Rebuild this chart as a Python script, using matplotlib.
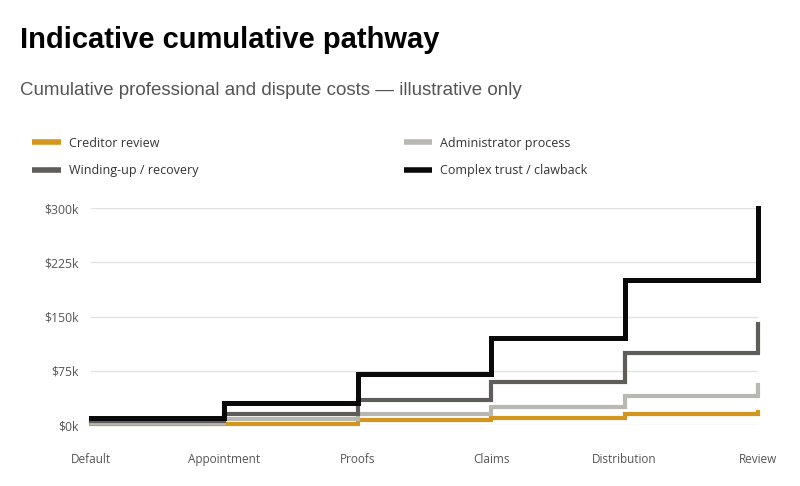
import matplotlib.pyplot as plt
from matplotlib.lines import Line2D
from matplotlib.ticker import FuncFormatter

# stages along the pathway
stages = ["Default", "Appointment", "Proofs", "Claims", "Distribution", "Review"]

# cumulative costs, $k
creditor_review = [1, 2, 7, 10, 15, 18]
administrator_process = [3, 8, 15, 25, 40, 55]
winding_up = [6, 15, 35, 60, 100, 140]
complex_trust = [10, 30, 70, 120, 200, 300]

y_ticks = [0, 75, 150, 225, 300]

series = [
    ("Creditor review", creditor_review, "#D4961E", 3.0),
    ("Administrator process", administrator_process, "#B9B7B1", 3.0),
    ("Winding-up / recovery", winding_up, "#5E5D59", 3.0),
    ("Complex trust / clawback", complex_trust, "#0A0A0A", 3.6),
]

fig = plt.figure(figsize=(8, 4.86), dpi=100)
ax = fig.add_axes([0.11375, 0.1255, 0.83375, 0.4465])

x = list(range(len(stages)))
for name, vals, color, lw in series:
    ax.step(x, vals, where="post", color=color, lw=lw, label=name,
            solid_joinstyle="miter", clip_on=False, zorder=3)

ax.set_xlim(0, len(stages) - 1)
ax.set_ylim(0, 300)
ax.set_yticks(y_ticks)
ax.yaxis.set_major_formatter(FuncFormatter(lambda v, p: f"${int(v)}k"))
ax.set_xticks(x)
ax.set_xticklabels(stages)
ax.grid(axis="y", color="#E2E2E2", lw=1)
ax.set_axisbelow(True)
for s in ax.spines.values():
    s.set_visible(False)
ax.tick_params(length=0, labelsize=8.5, labelcolor="#555555")
ax.tick_params(axis="y", labelsize=8.8, pad=8.6)
ax.tick_params(axis="x", pad=20.5)
for lab in ax.get_xticklabels() + ax.get_yticklabels():
    lab.set_fontfamily("Open Sans")

fig.text(0.025, 0.901, "Indicative cumulative pathway", fontsize=21,
         fontweight="bold", family="Liberation Sans", color="#000000")
fig.text(0.025, 0.8045, "Cumulative professional and dispute costs \u2014 illustrative only",
         fontsize=13.5, family="Liberation Sans", color="#555555")

handles = [Line2D([], [], color=c, lw=4, solid_capstyle="butt") for _, _, c, _ in series]
order = [0, 2, 1, 3]
leg = fig.legend([handles[i] for i in order], [series[i][0] for i in order],
                 ncol=2, loc="upper left", bbox_to_anchor=(0.0265, 0.742),
                 frameon=False, handlelength=2.3, handletextpad=0.64,
                 columnspacing=16.4, labelspacing=1.15,
                 prop={"family": "Open Sans", "size": 9})
for t in leg.get_texts():
    t.set_color("#333333")

fig.savefig("out.png", dpi=100, facecolor="white")
